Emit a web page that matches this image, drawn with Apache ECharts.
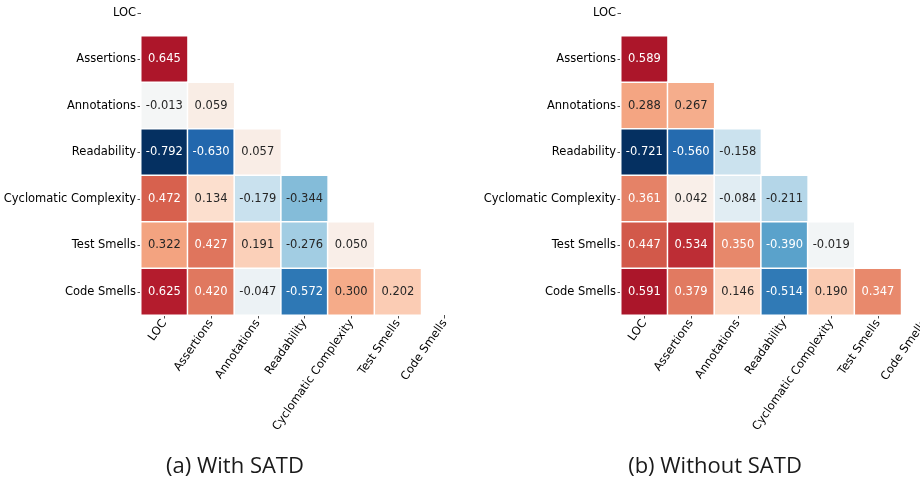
<!DOCTYPE html>
<html>
<head>
<meta charset="utf-8">
<script src="https://cdn.jsdelivr.net/npm/echarts@6/dist/echarts.min.js"></script>
<style>
  html, body { margin: 0; padding: 0; background: #fff; }
  #chart { width: 920px; height: 485px; }
</style>
</head>
<body>
<div id="chart"></div>
<script>
// metric names, same order on both axes
const metrics = ['LOC', 'Assertions', 'Annotations', 'Readability', 'Cyclomatic Complexity', 'Test Smells', 'Code Smells']

// lower triangle, row i holds correlations with metrics[0..i-1]
const withSatd = [
  [],
  [0.645],
  [-0.013, 0.059],
  [-0.792, -0.630, 0.057],
  [0.472, 0.134, -0.179, -0.344],
  [0.322, 0.427, 0.191, -0.276, 0.050],
  [0.625, 0.420, -0.047, -0.572, 0.300, 0.202]
]
const withoutSatd = [
  [],
  [0.589],
  [0.288, 0.267],
  [-0.721, -0.560, -0.158],
  [0.361, 0.042, -0.084, -0.211],
  [0.447, 0.534, 0.350, -0.390, -0.019],
  [0.591, 0.379, 0.146, -0.514, 0.190, 0.347]
]
const captions = ['(a) With SATD', '(b) Without SATD']

// RdBu reversed (low = blue, high = red)
const rdbuR = ['#053061', '#2166ac', '#4393c3', '#92c5de', '#d1e5f0', '#f7f7f7',
  '#fddbc7', '#f4a582', '#d6604d', '#b2182b', '#67001f']

function hexToRgb(h){
  return [parseInt(h.slice(1, 3), 16), parseInt(h.slice(3, 5), 16), parseInt(h.slice(5, 7), 16)]
}
//same interpolation the visualMap does, only used to pick the label colour
function colorAt(t){
  t = Math.max(0, Math.min(1, t))
  const pos = t * (rdbuR.length - 1)
  const i = Math.min(Math.floor(pos), rdbuR.length - 2)
  const f = pos - i
  const a = hexToRgb(rdbuR[i]), b = hexToRgb(rdbuR[i + 1])
  return a.map((c, k) => (c + (b[k] - c) * f) / 255)
}
function luminance(rgb){
  const lin = rgb.map(c => c <= 0.03928 ? c / 12.92 : Math.pow((c + 0.055) / 1.055, 2.4))
  return 0.2126 * lin[0] + 0.7152 * lin[1] + 0.0722 * lin[2]
}

function buildData(matrix, vr){
  const out = []
  matrix.forEach((row, i) => {
    row.forEach((v, j) => {
      const lum = luminance(colorAt((v + vr) / (2 * vr)))
      out.push({
        value: [j, i, v],
        label: { color: lum <= 0.408 ? '#ffffff' : '#262626' }
      })
    })
  })
  return out
}
function range(matrix){
  let m = 0
  matrix.forEach(row => row.forEach(v => { m = Math.max(m, Math.abs(v)) }))
  return m
}

const panels = [withSatd, withoutSatd]
const gridLeft = [141, 621]
const captionX = [235, 715]

const labelFont = { fontFamily: 'DejaVu Sans', fontSize: 11.5, color: '#000' }

const option = {
  animation: false,
  backgroundColor: '#fff',
  grid: gridLeft.map(l => ({
    left: l, top: -10.5, width: 327, height: 325.5,
    containLabel: false,
    outerBoundsMode: 'none'
  })),
  xAxis: panels.map((p, k) => ({
    type: 'category',
    gridIndex: k,
    data: metrics,
    axisLine: { show: false },
    axisTick: { show: true, alignWithLabel: true, length: 3.5, lineStyle: { color: '#222', width: 0.8 } },
    axisLabel: { ...labelFont, rotate: 55, margin: 6, interval: 0 },
    splitLine: { show: false }
  })),
  yAxis: panels.map((p, k) => ({
    type: 'category',
    gridIndex: k,
    inverse: true,
    data: metrics,
    axisLine: { show: false },
    axisTick: { show: true, alignWithLabel: true, length: 3.5, lineStyle: { color: '#222', width: 0.8 } },
    axisLabel: { ...labelFont, margin: 5, interval: 0 },
    splitLine: { show: false }
  })),
  visualMap: panels.map((p, k) => ({
    show: false,
    type: 'continuous',
    seriesIndex: k,
    dimension: 2,
    min: -range(p),
    max: range(p),
    inRange: { color: rdbuR }
  })),
  series: panels.map((p, k) => ({
    type: 'heatmap',
    xAxisIndex: k,
    yAxisIndex: k,
    data: buildData(p, range(p)),
    itemStyle: { borderColor: '#fff', borderWidth: 1.5 },
    label: {
      show: true,
      fontFamily: 'DejaVu Sans',
      fontSize: 11.5,
      formatter: arg => arg.value[2].toFixed(3)
    },
    emphasis: { disabled: true }
  })),
  //sub-figure captions
  graphic: captions.map((c, k) => ({
    type: 'text',
    x: captionX[k],
    y: 456,
    style: {
      text: c,
      align: 'center',
      verticalAlign: 'top',
      fontFamily: 'Open Sans',
      fontSize: 22,
      fill: '#1a1a1a'
    }
  }))
}

const chart = echarts.init(document.getElementById('chart'))
chart.setOption(option)
</script>
</body>
</html>
